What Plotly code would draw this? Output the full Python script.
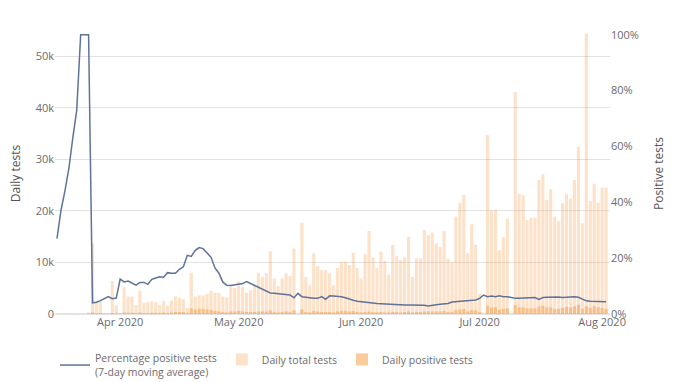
import pandas as pd
import plotly.graph_objects as go

# ---- data ----
line_dates = pd.date_range("2020-03-16", "2020-08-02", freq="D")
bar_dates = pd.date_range("2020-03-24", "2020-08-02", freq="D")

# Percentage positive tests (7-day moving average), %, Mar 16 .. Aug 2
pct_mar = [27, 37, 44, 52, 63, 73, 100, 100, 100, 4.0, 4.2, 4.8, 5.5, 6.2, 5.5, 5.7]
pct_apr = [12.5, 11.5, 11.8, 11.0, 10.3, 11.3, 11.3, 10.6, 12.4, 12.9,
           13.3, 13.2, 14.8, 14.6, 14.6, 16.0, 16.9, 21.0, 20.6, 22.8,
           23.8, 23.4, 22.0, 20.3, 16.5, 14.6, 11.4, 10.3, 10.2, 10.5]
pct_may = [10.8, 10.9, 11.6, 10.9, 10.0, 9.5, 8.8, 8.0, 7.5, 7.4,
           7.2, 7.1, 7.0, 6.8, 5.8, 7.4, 6.2, 6.0, 5.7, 5.6,
           5.6, 6.2, 5.3, 6.5, 6.4, 6.3, 6.2, 5.8, 5.3, 4.9, 4.6]
pct_jun = [4.4, 4.2, 4.0, 3.9, 3.8, 3.7, 3.6, 3.5, 3.3, 3.2,
           3.2, 3.2, 3.2, 3.2, 3.2, 3.2, 3.1, 2.9, 3.0, 3.3,
           3.5, 3.6, 3.8, 4.3, 4.4, 4.5, 4.6, 4.7, 4.8, 5.0]
pct_jul = [5.6, 6.8, 6.2, 6.4, 6.2, 6.5, 6.2, 6.2, 5.9, 5.6,
           5.6, 5.7, 5.7, 5.8, 5.9, 5.2, 5.9, 6.0, 6.1, 6.2,
           6.1, 5.9, 6.0, 6.1, 6.2, 6.0, 5.3, 4.7, 4.6, 4.6, 4.6]
pct_aug = [4.5, 4.4]
pct_positive = pct_mar + pct_apr + pct_may + pct_jun + pct_jul + pct_aug

# Daily total tests (thousands), Mar 24 .. Aug 2
total_mar = [0.3, 13.7, 2.4, 2.4, 0.2, 0.2, 6.4, 1.7]
total_apr = [0.2, 5.2, 3.4, 3.4, 1.7, 4.5, 2.2, 2.3, 2.4, 2.3,
             1.7, 2.5, 1.6, 2.6, 3.4, 3.2, 2.9, 1.2, 8.0, 3.4,
             3.6, 3.6, 3.9, 4.5, 4.1, 4.1, 3.4, 3.2, 5.3, 5.1]
total_may = [6.3, 5.3, 4.1, 4.6, 5.4, 8.0, 7.2, 7.9, 12.2, 6.9,
             5.4, 6.9, 7.9, 7.4, 12.7, 0, 17.7, 7.2, 5.6, 11.8,
             9.3, 8.5, 8.5, 7.9, 5.6, 8.9, 10.1, 10.1, 9.5, 11.9, 8.9]
total_jun = [6.9, 11.6, 16.1, 11.0, 8.9, 12.1, 10.3, 7.6, 13.4, 11.2,
             10.5, 11.0, 15.0, 7.2, 10.8, 10.8, 16.3, 15.3, 15.8, 13.7,
             13.0, 16.1, 10.7, 10.0, 18.9, 21.6, 23.1, 11.8, 17.4, 13.4]
total_jul = [3.9, 0, 34.7, 20.0, 20.2, 12.4, 14.9, 18.5, 0, 43.1,
             23.3, 23.1, 18.2, 18.7, 18.7, 26.0, 27.1, 22.1, 24.2, 18.9,
             18.0, 21.5, 23.3, 22.4, 26.0, 32.4, 17.6, 54.4, 21.9, 25.3, 21.6]
total_aug = [24.5, 24.5]
daily_total_k = total_mar + total_apr + total_may + total_jun + total_jul + total_aug

# Daily positive tests (thousands), Mar 24 .. Aug 2
pos_mar = [0.05, 0.3, 0.15, 0.15, 0.02, 0.02, 0.2, 0.1]
pos_apr = [0.05, 0.3, 0.25, 0.25, 0.15, 0.3, 0.2, 0.2, 0.25, 0.25,
           0.2, 0.3, 0.2, 0.3, 0.4, 0.4, 0.4, 0.2, 1.1, 0.9,
           1.0, 1.0, 0.9, 0.8, 0.6, 0.5, 0.4, 0.3, 0.5, 0.5]
pos_may = [0.6, 0.5, 0.4, 0.4, 0.4, 0.5, 0.5, 0.5, 0.7, 0.4,
           0.3, 0.4, 0.5, 0.4, 0.7, 0, 0.9, 0.4, 0.3, 0.6,
           0.5, 0.4, 0.4, 0.4, 0.3, 0.5, 0.6, 0.6, 0.5, 0.6, 0.4]
pos_jun = [0.3, 0.4, 0.5, 0.4, 0.3, 0.4, 0.3, 0.3, 0.4, 0.4,
           0.3, 0.4, 0.5, 0.3, 0.4, 0.4, 0.5, 0.5, 0.5, 0.5,
           0.5, 0.6, 0.4, 0.4, 0.8, 0.9, 1.0, 0.5, 0.8, 0.7]
pos_jul = [0.4, 0, 1.6, 1.3, 1.3, 0.8, 1.0, 1.1, 0, 1.7,
           1.3, 1.3, 1.1, 1.1, 1.1, 1.5, 1.6, 1.3, 1.3, 1.0,
           1.0, 1.2, 1.4, 1.3, 1.5, 1.8, 1.0, 1.5, 1.2, 1.5, 1.3]
pos_aug = [1.2, 1.0]
daily_positive_k = pos_mar + pos_apr + pos_may + pos_jun + pos_jul + pos_aug

daily_total = [v * 1000 for v in daily_total_k]
daily_positive = [v * 1000 for v in daily_positive_k]

# ---- figure ----
TEXT = "#6b6b6b"
GRID = "#e2e2e2"
FONT = "Open Sans"

fig = go.Figure()
fig.add_trace(go.Scatter(
    x=line_dates, y=pct_positive, yaxis="y2", mode="lines",
    name="Percentage positive tests<br>(7-day moving average)",
    line=dict(color="#5f7299", width=1.5),
))
fig.add_trace(go.Bar(
    x=bar_dates, y=daily_total, name="Daily total tests",
    marker=dict(color="rgba(249,168,90,0.33)", line=dict(width=0)),
))
fig.add_trace(go.Bar(
    x=bar_dates, y=daily_positive, name="Daily positive tests",
    marker=dict(color="rgba(249,168,90,0.6)", line=dict(width=0)),
))

fig.update_layout(
    width=680, height=382,
    margin=dict(l=55, r=70, t=33, b=68, autoexpand=False),
    paper_bgcolor="white", plot_bgcolor="white",
    barmode="overlay", bargap=0.2,
    font=dict(family=FONT, size=11, color=TEXT),
    showlegend=True,
    legend=dict(orientation="h", x=0, xanchor="left", y=-0.11, yanchor="top",
                font=dict(size=10.5, color=TEXT), itemclick=False),
    xaxis=dict(type="date", range=["2020-03-15 12:00", "2020-08-03 00:00"],
               dtick="M1", tickformat="%b %Y", showgrid=False, showline=False,
               zeroline=False, ticks="", automargin=False,
               tickfont=dict(size=11, color=TEXT)),
    yaxis=dict(range=[0, 54500], dtick=10000, tickformat="~s",
               gridcolor=GRID, zerolinecolor=GRID, showline=False, ticks="",
               automargin=False, tickfont=dict(size=11, color=TEXT),
               title=dict(text="Daily tests", standoff=12,
                          font=dict(size=12, color="#555555"))),
    yaxis2=dict(overlaying="y", side="right", range=[0, 100.6], dtick=20,
                ticksuffix="%", showgrid=False, zeroline=False, showline=False,
                ticks="", automargin=False, tickfont=dict(size=11, color=TEXT),
                title=dict(text="Positive tests", standoff=16,
                           font=dict(size=12, color="#555555"))),
)

fig.write_html(
    "out.html",
    config={"displayModeBar": False},
    post_script="document.body.style.margin='0px';document.body.style.overflow='hidden';",
)
